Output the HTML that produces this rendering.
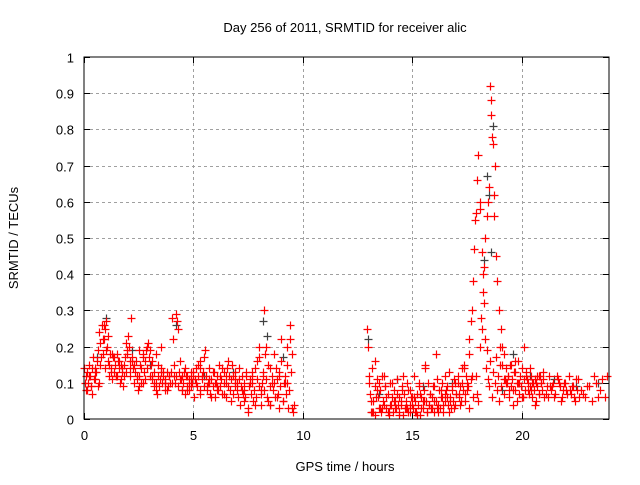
<!DOCTYPE html>
<html><head><meta charset="utf-8"><style>
body{margin:0;background:#fff}
svg text{font-family:"Liberation Sans",sans-serif;font-size:13px;fill:#000}
</style></head><body>
<svg id="chart" width="640" height="480" xmlns="http://www.w3.org/2000/svg">
<text x="345" y="32" text-anchor="middle">Day 256 of 2011, SRMTID for receiver alic</text>
<text transform="translate(18,238) rotate(-90)" text-anchor="middle">SRMTID / TECUs</text>
<text x="345" y="471" text-anchor="middle">GPS time / hours</text>
<g id="grid"></g>
<g id="ticks"></g>
<g id="gray"></g>
<g id="red"></g>
<rect x="84" y="57" width="525" height="362" fill="none" stroke="#000" stroke-width="1"/>
</svg>
<script>
const xTicks=[0,5,10,15,20];
const yTicks=[0,0.1,0.2,0.3,0.4,0.5,0.6,0.7,0.8,0.9,1];
const yTickLabels=["0","0.1","0.2","0.3","0.4","0.5","0.6","0.7","0.8","0.9","1"];
const redT=[0.05,0.15,0.25,0.35,0.45,0.55,0.65,0.75,0.85,0.9,0.95,1.0,1.05,1.1,1.15,1.25,1.35,1.45,1.55,1.65,1.75,1.85,1.95,2.05,2.15,2.2,2.3,2.4,2.5,2.6,2.7,2.8,2.9,3.0,3.1,3.2,3.3,3.4,3.5,3.6,3.7,3.8,3.9,4.0,4.1,4.2,4.25,4.3,4.4,4.5,4.6,4.7,4.8,4.9,5.0,5.1,5.2,5.3,5.4,5.5,5.6,5.7,5.8,5.9,6.0,6.1,6.2,6.3,6.4,6.5,6.6,6.7,6.8,6.9,7.0,7.1,7.2,7.3,7.4,7.5,7.6,7.7,7.8,7.9,8.0,8.1,8.2,8.25,8.3,8.4,8.5,8.6,8.7,8.8,8.9,9.0,9.1,9.2,9.3,9.4,9.5,9.55,
12.95,13.0,13.05,13.1,13.2,13.3,13.4,13.5,13.6,13.7,13.8,13.9,14.0,14.1,14.2,14.3,14.4,14.5,14.6,14.7,14.8,14.9,15.0,15.1,15.2,15.3,15.4,15.5,15.6,15.7,15.8,15.9,16.0,16.1,16.2,16.3,16.4,16.5,16.6,16.7,16.8,16.9,17.0,17.1,17.2,17.3,17.4,17.5,17.6,17.7,17.8,17.9,18.0,18.1,18.15,18.2,18.25,18.3,18.35,18.4,18.45,18.5,18.55,18.6,18.62,18.65,18.7,18.72,18.75,18.8,18.85,18.9,18.95,19.0,19.05,19.1,19.2,19.3,19.4,19.5,19.6,19.7,19.8,19.9,20.0,20.1,20.2,20.3,20.4,20.5,20.6,20.7,20.8,20.9,21.0,21.2,21.4,21.6,21.8,22.0,22.2,22.4,22.6,22.8,23.0,23.2,23.4,23.6,23.8,23.9,
0.1,0.3,0.5,0.7,1.3,1.5,1.7,1.9,2.1,2.5,2.7,3.1,3.3,3.5,3.7,4.5,4.7,4.9,5.3,5.7,6.1,6.5,6.9,7.3,7.7,8.1,8.5,8.9,9.3,
13.15,13.35,13.55,13.75,13.95,14.15,14.35,14.55,14.75,14.95,15.15,15.35,15.55,15.75,15.95,16.15,16.35,16.55,16.75,16.95,17.15,17.35,17.55,17.75,17.95,19.25,19.45,19.65,19.85,20.05,20.25,20.45,20.65,20.85,21.1,21.3,21.5,21.7,21.9,22.1,22.3,22.5,22.7,22.9,23.1,23.3,23.5,23.7,
0.02,0.08,0.12,0.18,0.22,0.28,0.32,0.38,0.42,0.48,0.52,0.58,0.62,0.68,0.72,0.78,0.82,0.88,0.92,0.98,1.02,1.08,1.12,1.18,1.22,1.28,1.32,1.38,1.42,1.48,1.52,1.58,1.62,1.68,1.72,1.78,1.82,1.88,1.92,1.98,2.02,2.08,2.12,2.18,2.22,2.28,2.32,2.38,2.42,2.48,2.52,2.58,2.62,2.68,2.72,2.78,2.82,2.88,2.92,2.98,3.02,3.08,3.12,3.18,3.22,3.28,3.32,3.38,3.42,3.48,3.52,3.58,3.62,3.68,3.72,3.78,3.82,3.88,3.92,3.98,4.02,4.08,4.12,4.18,4.22,4.28,4.32,4.38,4.42,4.48,4.52,4.58,4.62,4.68,4.72,4.78,4.82,4.88,4.92,4.98,
5.02,5.08,5.12,5.18,5.22,5.28,5.32,5.38,5.42,5.48,5.52,5.58,5.62,5.68,5.72,5.78,5.82,5.88,5.92,5.98,6.02,6.08,6.12,6.18,6.22,6.28,6.32,6.38,6.42,6.48,6.52,6.58,6.62,6.68,6.72,6.78,6.82,6.88,6.92,6.98,7.02,7.08,7.12,7.18,7.22,7.28,7.32,7.38,7.42,7.48,7.52,7.58,7.62,7.68,7.72,7.78,7.82,7.88,7.92,7.98,8.02,8.08,8.12,8.18,8.22,8.28,8.32,8.38,8.42,8.48,8.52,8.58,8.62,8.68,8.72,8.78,8.82,8.88,8.92,8.98,9.02,9.08,9.12,9.18,9.22,9.28,9.32,9.38,9.42,9.48,9.52,9.58,
13.02,13.08,13.12,13.18,13.22,13.28,13.32,13.38,13.42,13.48,13.52,13.58,13.62,13.68,13.72,13.78,13.82,13.88,13.92,13.98,14.02,14.08,14.12,14.18,14.22,14.28,14.32,14.38,14.42,14.48,14.52,14.58,14.62,14.68,14.72,14.78,14.82,14.88,14.92,14.98,15.02,15.08,15.12,15.18,15.22,15.28,15.32,15.38,15.42,15.48,15.52,15.58,15.62,15.68,15.72,15.78,15.82,15.88,15.92,15.98,16.02,16.08,16.12,16.18,16.22,16.28,16.32,16.38,16.42,16.48,16.52,16.58,16.62,16.68,16.72,16.78,16.82,16.88,16.92,16.98,17.02,17.08,17.12,17.18,17.22,17.28,17.32,17.38,17.42,17.48,17.52,17.58,17.62,17.68,17.72,17.78,17.82,17.88,17.92,17.98,18.02,18.08,18.12,18.18,18.22,18.28,18.32,18.38,18.42,18.48,18.52,18.58,18.64,18.68,18.78,18.82,18.88,18.92,18.98,19.02,19.08,19.12,19.18,19.22,19.28,19.32,19.38,19.42,19.48,19.52,19.58,19.62,19.68,19.72,19.78,19.82,19.88,19.92,19.98,
20.02,20.08,20.12,20.18,20.22,20.28,20.32,20.38,20.42,20.48,20.52,20.58,20.62,20.68,20.72,20.78,20.82,20.88,20.92,20.98,21.05,21.15,21.25,21.35,21.45,21.55,21.65,21.75,21.85,21.95,22.05,22.15,22.25,22.35,22.45,22.55,22.65,22.75,22.85,22.95,23.05,23.15,23.25,23.35,23.45,23.55,23.65,23.75,23.85,23.95];
const redV=[0.1,0.08,0.12,0.07,0.11,0.13,0.09,0.15,0.22,0.26,0.25,0.27,0.2,0.23,0.15,0.13,0.17,0.12,0.16,0.1,0.14,0.12,0.18,0.2,0.28,0.16,0.15,0.12,0.09,0.14,0.17,0.11,0.2,0.19,0.12,0.1,0.08,0.15,0.2,0.13,0.1,0.08,0.12,0.1,0.12,0.29,0.27,0.25,0.11,0.08,0.14,0.12,0.1,0.09,0.13,0.1,0.15,0.07,0.12,0.17,0.09,0.11,0.06,0.13,0.1,0.08,0.12,0.14,0.07,0.1,0.16,0.05,0.12,0.09,0.1,0.14,0.08,0.05,0.12,0.02,0.1,0.13,0.04,0.16,0.2,0.07,0.12,0.3,0.2,0.05,0.14,0.1,0.18,0.06,0.12,0.22,0.05,0.1,0.15,0.26,0.03,0.02,
0.25,0.2,0.12,0.05,0.02,0.16,0.08,0.1,0.03,0.12,0.06,0.02,0.04,0.1,0.03,0.07,0.01,0.05,0.12,0.03,0.08,0.02,0.04,0.06,0.01,0.1,0.03,0.05,0.15,0.02,0.07,0.03,0.05,0.18,0.02,0.08,0.04,0.12,0.06,0.02,0.09,0.03,0.07,0.1,0.04,0.14,0.05,0.08,0.03,0.11,0.06,0.12,0.05,0.2,0.28,0.25,0.35,0.42,0.5,0.56,0.6,0.64,0.92,0.88,0.84,0.78,0.76,0.62,0.56,0.7,0.45,0.38,0.3,0.2,0.25,0.15,0.18,0.1,0.12,0.15,0.08,0.16,0.05,0.1,0.06,0.2,0.12,0.08,0.14,0.1,0.04,0.12,0.07,0.1,0.13,0.06,0.09,0.12,0.05,0.1,0.08,0.06,0.11,0.07,0.09,0.05,0.1,0.08,0.06,0.12,
0.12,0.09,0.14,0.1,0.18,0.12,0.15,0.13,0.14,0.19,0.1,0.16,0.18,0.13,0.1,0.12,0.08,0.11,0.14,0.1,0.09,0.12,0.11,0.08,0.1,
0.08,0.04,0.03,0.1,0.02,0.06,0.03,0.09,0.02,0.05,0.04,0.08,0.03,0.06,0.02,0.07,0.05,0.04,0.09,0.03,0.06,0.08,0.05,0.1,0.07,0.14,0.09,0.12,0.07,0.11,0.08,0.13,0.1,0.06,0.11,0.08,0.1,0.12,0.07,0.09,0.06,0.1,0.08,0.07,0.09,0.11,0.08,0.06,
0.09,0.12,0.06,0.11,0.14,0.08,0.13,0.1,0.15,0.12,0.09,0.14,0.17,0.11,0.13,0.16,0.19,0.24,0.21,0.17,0.26,0.18,0.22,0.14,0.19,0.16,0.12,0.18,0.14,0.11,0.17,0.13,0.15,0.12,0.18,0.14,0.16,0.11,0.13,0.09,0.15,0.17,0.21,0.19,0.23,0.16,0.12,0.17,0.14,0.1,0.13,0.16,0.11,0.08,0.12,0.15,0.1,0.18,0.13,0.16,0.19,0.14,0.21,0.17,0.12,0.15,0.11,0.09,0.13,0.1,0.07,0.12,0.09,0.11,0.14,0.1,0.12,0.08,0.11,0.13,0.09,0.12,0.1,0.13,0.28,0.22,0.15,0.1,0.12,0.09,0.13,0.16,0.11,0.08,0.1,0.13,0.07,0.12,0.09,0.11,
0.08,0.13,0.1,0.12,0.06,0.11,0.14,0.09,0.12,0.16,0.08,0.11,0.13,0.09,0.19,0.12,0.08,0.1,0.14,0.07,0.11,0.09,0.13,0.06,0.1,0.12,0.08,0.15,0.09,0.11,0.07,0.13,0.1,0.06,0.14,0.09,0.12,0.08,0.11,0.15,0.07,0.1,0.13,0.08,0.06,0.11,0.04,0.09,0.12,0.07,0.1,0.06,0.13,0.03,0.09,0.11,0.07,0.12,0.05,0.08,0.14,0.06,0.11,0.09,0.17,0.04,0.1,0.13,0.08,0.18,0.11,0.06,0.15,0.09,0.04,0.12,0.08,0.1,0.06,0.14,0.11,0.07,0.13,0.09,0.16,0.05,0.1,0.12,0.07,0.2,0.03,0.08,
0.22,0.13,0.18,0.04,0.1,0.07,0.02,0.14,0.05,0.09,0.01,0.11,0.06,0.03,0.08,0.02,0.12,0.05,0.04,0.09,0.03,0.07,0.01,0.1,0.04,0.06,0.02,0.08,0.05,0.03,0.11,0.02,0.06,0.04,0.09,0.01,0.07,0.03,0.05,0.1,0.02,0.08,0.04,0.06,0.03,0.12,0.05,0.02,0.07,0.04,0.09,0.01,0.06,0.03,0.08,0.14,0.05,0.02,0.1,0.04,0.07,0.03,0.06,0.09,0.02,0.05,0.11,0.04,0.08,0.03,0.06,0.1,0.02,0.07,0.05,0.09,0.04,0.13,0.06,0.03,0.08,0.05,0.11,0.04,0.07,0.12,0.06,0.09,0.05,0.1,0.08,0.15,0.07,0.12,0.1,0.18,0.22,0.27,0.3,0.38,0.47,0.55,0.57,0.66,0.73,0.6,0.58,0.46,0.4,0.32,0.22,0.14,0.19,0.11,0.09,0.16,0.06,0.13,0.1,0.17,0.08,0.12,0.05,0.15,0.09,0.2,0.11,0.07,0.14,0.1,
0.12,0.06,0.15,0.09,0.11,0.04,0.13,0.08,0.1,0.16,0.07,0.12,0.09,0.14,0.06,0.11,0.08,0.13,0.1,0.07,0.09,0.12,0.06,0.1,0.08,0.11,0.05,0.09,0.12,0.07,0.1,0.08,0.11,0.06,0.09,0.12,0.08,0.1,0.07,0.11,0.09,0.06,0.1,0.08,0.12,0.07,0.09,0.05,0.08,0.06];
const grayT=[0.6,1.0,2.2,3.0,4.2,5.5,6.8,8.2,8.35,9.1,13.0,13.5,14.3,15.5,16.8,18.3,18.4,18.5,18.6,18.7,19.1,19.6,20.4,21.5,22.5,23.5];
const grayV=[0.17,0.28,0.19,0.15,0.26,0.12,0.13,0.27,0.23,0.17,0.22,0.07,0.11,0.09,0.1,0.44,0.67,0.62,0.46,0.81,0.08,0.18,0.12,0.11,0.09,0.1];

const X0=84,X1=609,Y0=419,Y1=57,XMAX=24;
const sx=t=>X0+(X1-X0)*t/XMAX;
const sy=v=>Y0-(Y0-Y1)*v;
const NS="http://www.w3.org/2000/svg";
function mk(tag,attrs,parent){const e=document.createElementNS(NS,tag);for(const k in attrs)e.setAttribute(k,attrs[k]);parent.appendChild(e);return e;}
const grid=document.getElementById('grid'),ticks=document.getElementById('ticks');
xTicks.forEach(t=>{
  const x=Math.round(sx(t))+0.5;
  if(t>0){const g=mk('line',{x1:x,x2:x,y1:Y1,y2:Y0,stroke:'#a0a0a0','stroke-dasharray':'3,3'},grid);
  
  }
  mk('line',{x1:x,x2:x,y1:Y0,y2:Y0-6,stroke:'#000'},ticks);
  mk('line',{x1:x,x2:x,y1:Y1,y2:Y1+6,stroke:'#000'},ticks);
  const l=mk('text',{x:x,y:Y0+21,'text-anchor':'middle'},ticks);l.textContent=t;
  
  
});
yTicks.forEach((v,i)=>{
  const y=Math.round(sy(v))+0.5;
  if(v>0&&v<1){const g=mk('line',{x1:X0,x2:X1,y1:y,y2:y,stroke:'#a0a0a0','stroke-dasharray':'3,3'},grid);
  
  }
  mk('line',{x1:X0,x2:X0+6,y1:y,y2:y,stroke:'#000'},ticks);
  mk('line',{x1:X1,x2:X1-6,y1:y,y2:y,stroke:'#000'},ticks);
  const l=mk('text',{x:X0-10,y:y+5,'text-anchor':'end'},ticks);l.textContent=yTickLabels[i];
  
  
});
function plus(g,t,v,c){
  const x=Math.round(sx(t))+0.5,y=Math.round(sy(v))+0.5;
  const p=mk('path',{d:`M${x-4},${y}H${x+4}M${x},${y-4}V${y+4}`,stroke:c,'stroke-width':1.2,fill:'none'},g);
  
  
}
const gg=document.getElementById('gray'),rg=document.getElementById('red');
grayT.forEach((t,i)=>plus(gg,t,grayV[i],'#404040'));
redT.forEach((t,i)=>plus(rg,t,redV[i],'#ff0000'));
</script>
</body></html>
